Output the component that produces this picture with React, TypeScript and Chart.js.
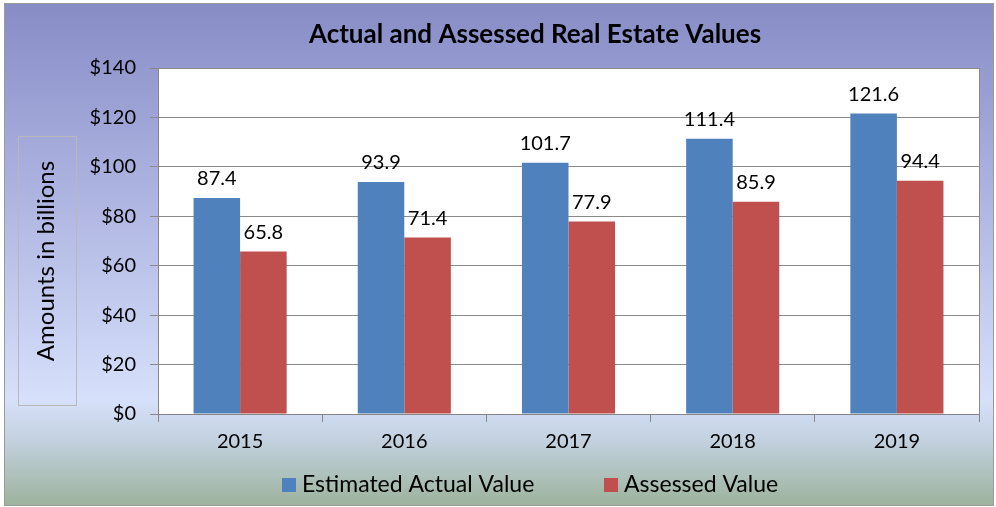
import React, { useEffect, useRef } from "react";
import { Chart, registerables } from "chart.js";

Chart.register(...registerables);

const categories = ["2015", "2016", "2017", "2018", "2019"];
const actualValues = [87.4, 93.9, 101.7, 111.4, 121.6];
const assessedValues = [65.8, 71.4, 77.9, 85.9, 94.4];
const seriesNames = ["Estimated Actual Value", "Assessed Value"];
const titleText = "Actual and Assessed Real Estate Values";
const yTitle = "Amounts in billions";

const FONT = "Lato, 'Open Sans', sans-serif";
const BLUE = "#4f81bd";
const RED = "#c0504d";

const decorPlugin = {
  id: "decor",
  beforeDraw(chart: any) {
    const { ctx, chartArea: a } = chart;
    ctx.save();
    const x0 = 4.5, y0 = 3.5, x1 = 993.5, y1 = 505.5;
    const g = ctx.createLinearGradient(0, y0, 0, y1);
    g.addColorStop(0, "#878cc6");
    g.addColorStop(0.4, "#b0b6e2");
    g.addColorStop(0.79, "#d6e0fb");
    g.addColorStop(0.87, "#c3d1df");
    g.addColorStop(1, "#9cb39c");
    ctx.fillStyle = g;
    ctx.fillRect(x0, y0, x1 - x0, y1 - y0);
    ctx.strokeStyle = "#9a9a9a";
    ctx.lineWidth = 1;
    ctx.strokeRect(x0, y0, x1 - x0, y1 - y0);
    ctx.fillStyle = "#ffffff";
    ctx.fillRect(a.left, a.top, a.right - a.left, a.bottom - a.top);
    ctx.strokeStyle = "#b8b8b8";
    ctx.strokeRect(18.5, 136.5, 58, 269);
    ctx.translate(46, 261);
    ctx.rotate(-Math.PI / 2);
    ctx.fillStyle = "#000";
    ctx.font = `24px ${FONT}`;
    ctx.textAlign = "center";
    ctx.textBaseline = "middle";
    ctx.fillText(yTitle, 0, 0);
    ctx.restore();
  },
  afterDraw(chart: any) {
    const { ctx, chartArea: a } = chart;
    ctx.save();
    ctx.strokeStyle = "#8a8a8a";
    ctx.lineWidth = 1;
    ctx.beginPath();
    ctx.moveTo(a.right + 0.5, a.top);
    ctx.lineTo(a.right + 0.5, a.bottom);
    ctx.stroke();
    ctx.fillStyle = "#000";
    ctx.font = `20px ${FONT}`;
    ctx.textAlign = "center";
    ctx.textBaseline = "middle";
    chart.data.datasets.forEach((ds: any, di: number) => {
      const meta = chart.getDatasetMeta(di);
      meta.data.forEach((bar: any, i: number) => {
        ctx.fillText(String(ds.data[i]), bar.x, bar.y - 19);
      });
    });
    ctx.font = `bold 26px ${FONT}`;
    ctx.fillText(titleText, 535, 35);
    ctx.font = `23px ${FONT}`;
    ctx.textAlign = "left";
    const colors = [BLUE, RED];
    const starts = [282, 604];
    seriesNames.forEach((n, i) => {
      ctx.fillStyle = colors[i];
      ctx.fillRect(starts[i], 478, 14, 14);
      ctx.fillStyle = "#000";
      ctx.fillText(n, starts[i] + 20, 485);
    });
    ctx.restore();
  },
};

export default function App() {
  const ref = useRef<HTMLCanvasElement>(null);
  useEffect(() => {
    document.body.style.margin = "0";
    const chart = new Chart(ref.current!, {
      type: "bar",
      data: {
        labels: categories,
        datasets: [
          { label: seriesNames[0], data: actualValues, backgroundColor: BLUE, categoryPercentage: 0.567, barPercentage: 1 },
          { label: seriesNames[1], data: assessedValues, backgroundColor: RED, categoryPercentage: 0.567, barPercentage: 1 },
        ],
      },
      options: {
        animation: false,
        responsive: false,
        devicePixelRatio: 1,
        layout: { padding: { left: 0, right: 17, top: 68, bottom: 0 } },
        plugins: { legend: { display: false }, title: { display: false }, tooltip: { enabled: false } },
        scales: {
          x: {
            grid: { drawOnChartArea: false, drawTicks: true, tickLength: 8, color: "#868686", offset: true },
            border: { color: "#868686" },
            ticks: { color: "#000", font: { family: FONT, size: 20 }, padding: 8 },
            afterFit(s: any) { s.height = 93; },
          },
          y: {
            min: 0,
            max: 140,
            grid: { drawOnChartArea: true, drawTicks: true, tickLength: 8, color: "#8a8a8a" },
            border: { color: "#868686" },
            ticks: { stepSize: 20, color: "#000", font: { family: FONT, size: 20 }, padding: 14, callback: (v: any) => "$" + v },
            afterFit(s: any) { s.width = 158; },
          },
        },
      },
      plugins: [decorPlugin],
    });
    return () => chart.destroy();
  }, []);
  return <canvas ref={ref} width={996} height={507} style={{ display: "block" }} />;
}
